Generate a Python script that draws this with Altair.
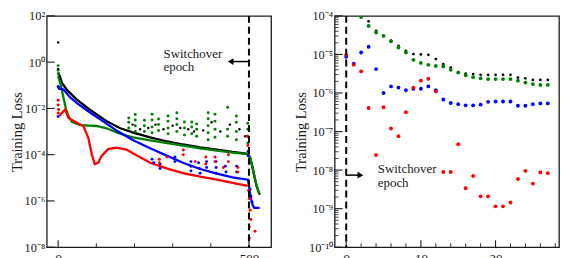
import altair as alt
import pandas as pd

FONT = "Liberation Serif"
INK = "#1a1a1a"
COLORS = {"black": "#000000", "green": "#008000", "blue": "#0000ff", "red": "#ff0000"}

# ---------------- left panel data (epoch, log10 of loss) -------------
black_ep = [0, 5, 10, 23, 49, 83, 127, 161, 197, 241, 286, 327, 372, 416, 457, 497, 503, 510, 515, 520, 528]
black_lg = [-0.45, -0.65, -0.9, -1.2, -1.62, -2.05, -2.55, -2.85, -3.05, -3.25, -3.43, -3.56, -3.68, -3.78, -3.88,
            -3.96, -4.12, -4.6, -5.0, -5.35, -5.73]
green_ep = [0, 7, 14, 21, 27, 36, 57, 100, 127, 155, 179, 197, 241, 286, 327, 372, 416, 457, 497, 503, 510, 515, 520, 528]
green_lg = [-0.6, -1.0, -1.55, -2.05, -2.33, -2.58, -2.72, -2.76, -2.86, -3.05, -3.18, -3.25, -3.38, -3.5, -3.61,
            -3.73, -3.82, -3.91, -3.98, -4.12, -4.6, -5.0, -5.35, -5.73]
blue_ep = [0, 8, 15, 25, 33, 50, 67, 90, 111, 155, 197, 241, 286, 327, 372, 416, 457, 497, 500, 503, 506, 510, 514, 528]
blue_lg = [-1.15, -1.15, -1.2, -1.4, -1.55, -1.78, -1.98, -2.25, -2.48, -2.98, -3.38, -3.72, -4.05, -4.35, -4.62,
           -4.82, -4.98, -5.08, -5.3, -5.7, -5.95, -6.2, -6.3, -6.3]
red_ep = [3, 10, 18, 27, 49, 66, 79, 88, 96, 105, 114, 131, 153, 179, 197, 241, 286, 327, 372, 416, 457, 497]
red_lg = [-2.33, -2.2, -2.05, -2.41, -2.62, -2.76, -3.27, -3.98, -4.41, -4.34, -4.05, -3.76, -3.70, -3.78, -3.95,
          -4.35, -4.6, -4.8, -4.95, -5.08, -5.22, -5.35]

# scattered spike dots (left panel)
green_dot_ep = [0, 0, 1,
                185, 185, 185, 202, 202, 202, 202, 226, 226, 226, 246, 246, 246, 246, 263, 263, 263,
                288, 288, 288, 288, 311, 311, 311, 311, 331, 331, 331, 350, 350, 350, 363, 363, 363,
                393, 393, 393, 393, 393, 411, 411, 411, 411, 444, 444, 444, 467, 467, 467, 467, 497, 497, 497, 497]
green_dot_lg = [-0.15, -0.35, -0.5,
                -2.41, -2.6, -2.85, -2.26, -2.5, -2.75, -3.0, -2.51, -2.75, -3.0, -2.25, -2.5, -2.8, -3.05,
                -2.46, -2.7, -2.95, -2.33, -2.55, -2.85, -3.1, -2.19, -2.45, -2.7, -3.0, -2.59, -2.85, -3.15,
                -2.59, -2.8, -3.1, -2.67, -2.9, -3.2, -2.19, -2.45, -2.75, -3.05, -3.35, -2.25, -2.55, -2.9,
                -3.25, -1.95, -2.9, -3.2, -2.33, -2.6, -3.0, -3.35, -2.64, -2.9, -3.2, -3.5]
black_dot_ep = [0, 0, 195, 215, 236, 255, 276, 300, 320, 341, 356, 380, 402, 425, 450, 475, 490]
black_dot_lg = [0.85, -0.3, -2.7, -2.9, -2.85, -2.7, -2.9, -2.75, -2.85, -2.9, -3.0, -2.95, -2.6, -3.0, -2.7,
                -2.9, -3.2]
blue_dot_ep = [0, 1, 0, 246, 250, 267, 267, 306, 306, 348, 348, 348, 368, 370, 372, 389, 389, 414, 414, 414,
               438, 440, 468, 468, 498, 498, 503, 505, 508]
blue_dot_lg = [-1.05, -1.1, -2.35, -4.2, -4.35, -4.4, -4.6, -4.1, -4.3, -4.3, -4.5, -4.7, -4.35, -4.6, -4.8,
               -4.3, -4.55, -4.3, -4.55, -4.8, -4.5, -4.75, -4.5, -4.75, -3.85, -4.05, -5.5, -5.8, -6.05]
red_dot_ep = [0, 0, 1, 0, 265, 265, 285, 328, 328, 359, 387, 387, 411, 411, 433, 446, 446, 471, 471, 495, 497,
              499, 501, 503, 505, 501, 516, 501]
red_dot_lg = [-1.65, -1.85, -2.05, -2.2, -4.2, -4.35, -4.1, -3.8, -4.0, -4.3, -4.1, -4.4, -4.1, -4.3, -4.55,
              -4.0, -4.3, -4.55, -4.75, -3.2, -3.6, -5.55, -5.9, -6.4, -6.8, -7.13, -7.31, -7.61]

# ---------------- right panel data (epoch after switchover, log10 of loss) ----------------
r_black_ep = list(range(3, 28))
r_black_lg = [-4.14, -4.39, -4.52, -4.64, -4.78, -4.91, -4.99, -5.0, -5.01, -5.12, -5.25, -5.34, -5.46, -5.50,
              -5.51, -5.53, -5.53, -5.53, -5.53, -5.53, -5.60, -5.62, -5.66, -5.66, -5.66]
r_green_ep = list(range(2, 28))
r_green_lg = [-4.03, -4.26, -4.43, -4.52, -4.66, -4.82, -4.95, -5.14, -5.22, -5.27, -5.30, -5.31, -5.40, -5.47,
              -5.54, -5.59, -5.62, -5.64, -5.64, -5.64, -5.64, -5.68, -5.73, -5.77, -5.79, -5.79]
r_blue_ep = list(range(0, 28))
r_blue_lg = [-5.06, -5.24, -4.95, -4.80, -5.38, -6.00, -5.83, -5.86, -5.93, -5.89, -5.89, -5.83, -5.93, -6.17,
             -6.26, -6.29, -6.32, -6.32, -6.30, -6.23, -6.22, -6.22, -6.22, -6.33, -6.33, -6.29, -6.27, -6.27]
r_red_ep = list(range(0, 28))
r_red_lg = [-5.01, -5.27, -5.44, -6.39, -7.61, -6.37, -6.92, -7.12, -6.50, -5.86, -5.68, -5.63, -5.96, -8.05,
            -8.05, -7.33, -8.47, -8.15, -8.68, -8.68, -8.94, -8.94, -8.84, -8.23, -8.02, -8.35, -8.06, -8.08]

# ---------------- axes / annotations ----------------
left_y_exps = [2, 0, -2, -4, -6, -8]
right_y_exps = [-4, -5, -6, -7, -8, -9, -10]
left_x_labels = [0, 500]
left_x_ticks = [100, 200, 300, 400]
right_x_labels = [0, 10, 20]
right_x_ticks = [2, 4, 6, 8, 12, 14, 16, 18, 22, 24, 26, 28]
switch_left = 500
switch_right = 0
note_text = ["Switchover", "epoch"]

W, H = 226, 233

SUP = {"-": "\u207b", "0": "\u2070", "1": "\u00b9", "2": "\u00b2", "3": "\u00b3", "4": "\u2074",
       "5": "\u2075", "6": "\u2076", "7": "\u2077", "8": "\u2078", "9": "\u2079"}


def sup(n):
    return "10" + "".join(SUP[c] for c in str(n))


def label_expr(exps):
    k = "round(log(datum.value)/LN10)"
    return " : ".join(f"{k} == {e} ? '{sup(e)}'" for e in exps) + " : ''"


def frame(ep, lg, series):
    return pd.DataFrame({"epoch": ep, "loss": [10.0 ** v for v in lg], "series": series})


axis_common = dict(ticks=False, domain=False, grid=False, labelFont=FONT, labelColor=INK,
                   titleFont=FONT, titleColor=INK, titleFontWeight="normal")


def make_panel(xdom, ydom, yexps, xlabels, xminor, ymajor_vals, yminor_vals, lines, dots,
               switch_ep, arrow, arrow_shape, arrow_head, text_x, text_y):
    X = alt.X("epoch:Q", scale=alt.Scale(domain=xdom, nice=False, zero=False),
              axis=alt.Axis(values=xlabels, format="d", title=None, labelFontSize=13, labelPadding=5,
                            **axis_common))
    Y = alt.Y("loss:Q", scale=alt.Scale(type="log", domain=ydom, nice=False),
              axis=alt.Axis(values=[10.0 ** e for e in yexps], labelExpr=label_expr(yexps),
                            title="Training Loss", labelFontSize=12.5, titleFontSize=14.5, labelPadding=2,
                            titlePadding=0, **axis_common))
    layers = []
    for df, col in lines:
        layers.append(alt.Chart(df).mark_line(color=col, strokeWidth=2.3, clip=True).encode(x=X, y=Y))
    for df, col, sz in dots:
        layers.append(alt.Chart(df).mark_circle(color=col, size=sz, opacity=1, clip=True).encode(x=X, y=Y))
    # inward ticks
    layers.append(alt.Chart(pd.DataFrame({"loss": ymajor_vals})).mark_rule(color=INK, strokeWidth=1.1)
                  .encode(y=Y, x=alt.value(0), x2=alt.value(8)))
    if yminor_vals:
        layers.append(alt.Chart(pd.DataFrame({"loss": yminor_vals})).mark_rule(color=INK, strokeWidth=0.8)
                      .encode(y=Y, x=alt.value(0), x2=alt.value(4)))
    layers.append(alt.Chart(pd.DataFrame({"epoch": xlabels})).mark_rule(color=INK, strokeWidth=1.1)
                  .encode(x=X, y=alt.value(H), y2=alt.value(H - 7)))
    layers.append(alt.Chart(pd.DataFrame({"epoch": xminor})).mark_rule(color=INK, strokeWidth=0.9)
                  .encode(x=X, y=alt.value(H), y2=alt.value(H - 4)))
    # switchover line
    layers.append(alt.Chart(pd.DataFrame({"epoch": [switch_ep]}))
                  .mark_rule(color="black", strokeWidth=2, strokeDash=[7, 4]).encode(x=X))
    # arrow
    a0, a1, ay = arrow
    layers.append(alt.Chart(pd.DataFrame({"epoch": [a0], "epoch2": [a1], "loss": [ay]}))
                  .mark_rule(color="black", strokeWidth=1.5).encode(x=X, x2="epoch2:Q", y=Y))
    layers.append(alt.Chart(pd.DataFrame({"epoch": [arrow_head], "loss": [ay]}))
                  .mark_point(shape=arrow_shape, filled=True, size=45, color="black", opacity=1)
                  .encode(x=X, y=Y))
    layers.append(alt.Chart(pd.DataFrame({"epoch": [text_x, text_x], "loss": text_y, "t": note_text}))
                  .mark_text(font=FONT, fontSize=13, align="left", baseline="alphabetic", color=INK)
                  .encode(x=X, y=Y, text="t:N"))
    return alt.layer(*layers).properties(width=W, height=H)


left_lines = [(frame(black_ep, black_lg, "black"), COLORS["black"]),
              (frame(green_ep, green_lg, "green"), COLORS["green"]),
              (frame(blue_ep, blue_lg, "blue"), COLORS["blue"]),
              (frame(red_ep, red_lg, "red"), COLORS["red"])]
left_dots = [(frame(green_dot_ep, green_dot_lg, "g"), COLORS["green"], 9),
             (frame(black_dot_ep, black_dot_lg, "k"), COLORS["black"], 6),
             (frame(blue_dot_ep, blue_dot_lg, "b"), COLORS["blue"], 9),
             (frame(red_dot_ep, red_dot_lg, "r"), COLORS["red"], 9)]
right_dots = [(frame(r_black_ep, r_black_lg, "k"), COLORS["black"], 8),
              (frame(r_green_ep, r_green_lg, "g"), COLORS["green"], 15),
              (frame(r_blue_ep, r_blue_lg, "b"), COLORS["blue"], 15),
              (frame(r_red_ep, r_red_lg, "r"), COLORS["red"], 15)]

right_minor = [m * 10.0 ** e for e in range(-10, -4) for m in range(2, 10)]

left = make_panel([-30, 558], [1e-8, 1e2], left_y_exps, left_x_labels, left_x_ticks,
                  [10.0 ** e for e in left_y_exps], [], left_lines, left_dots,
                  switch_left, (453, 500, 1.06), "triangle-left", 452, 276, [1.5, 0.40])
right = make_panel([-1.55, 28.5], [1e-10, 1e-4], right_y_exps, right_x_labels, right_x_ticks,
                   [10.0 ** e for e in right_y_exps], right_minor, [], right_dots,
                   switch_right, (0, 1.9, 7.4e-9), "triangle-right", 1.9, 4.23, [8.3e-9, 3.6e-9])

chart = alt.hconcat(left, right, spacing=64, bounds="flush").properties(
    padding={"top": 0, "left": 0, "right": 0, "bottom": 0}
).configure_view(stroke=INK, strokeWidth=1.3)

chart.save("out.html", embed_options={"renderer": "svg", "actions": False})
